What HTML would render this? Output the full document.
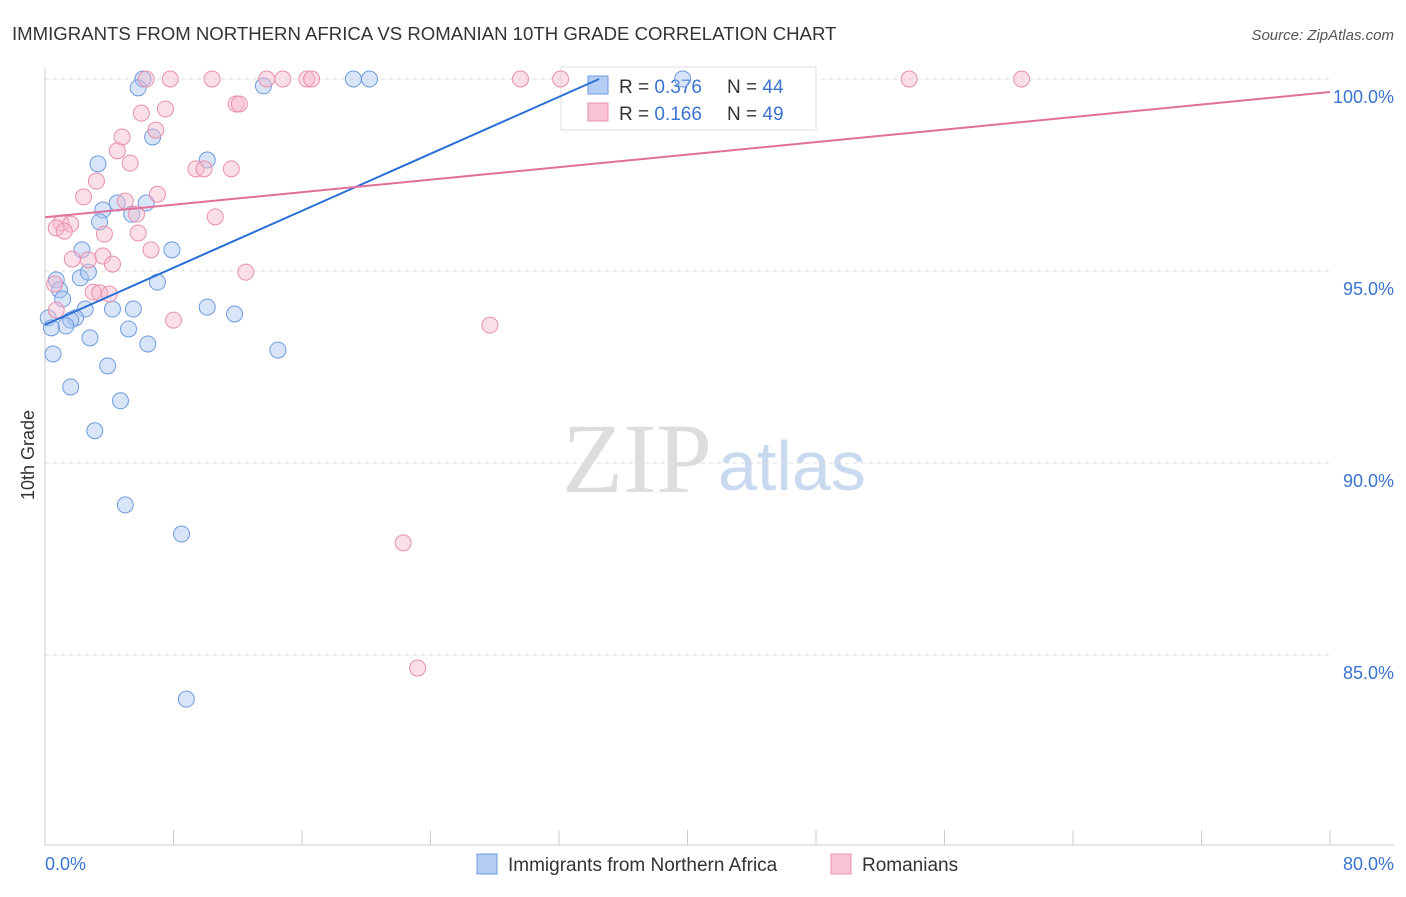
<!DOCTYPE html>
<html><head><meta charset="utf-8"><style>
body{margin:0;background:#fff;font-family:"Liberation Sans",sans-serif;}
</style></head><body>
<svg width="1406" height="892" xmlns="http://www.w3.org/2000/svg" style="font-family:'Liberation Sans',sans-serif">
<text x="12" y="40" font-size="18.6" fill="#333">IMMIGRANTS FROM NORTHERN AFRICA VS ROMANIAN 10TH GRADE CORRELATION CHART</text>
<text x="1394" y="40" font-size="15" fill="#555" font-style="italic" text-anchor="end">Source: ZipAtlas.com</text>
<text x="712" y="492" font-size="100" fill="#ddd" style="font-family:'Liberation Serif',serif" text-anchor="end">ZIP</text>
<text x="718" y="490" font-size="70" fill="#c9daf0">atlas</text>
<g id="grid"></g><g id="axes"></g>
<g>
<rect x="561" y="67" width="255" height="63" fill="#fff" stroke="#ddd"/>
<rect x="588" y="76" width="20" height="18" fill="#b5cdf3" stroke="#6f9be0"/>
<rect x="588" y="103" width="20" height="18" fill="#f8c3d4" stroke="#e890ad"/>
<text y="93" font-size="19" fill="#333"><tspan x="619">R = </tspan><tspan fill="#3a74d0">0.376</tspan><tspan x="727">N = </tspan><tspan fill="#3a74d0">44</tspan></text>
<text y="120" font-size="19" fill="#333"><tspan x="619">R = </tspan><tspan fill="#3a74d0">0.166</tspan><tspan x="727">N = </tspan><tspan fill="#3a74d0">49</tspan></text>
</g>
<g id="pts"></g><g id="lines"></g>
<text x="34" y="455" font-size="18" fill="#333" transform="rotate(-90 34 455)" text-anchor="middle">10th Grade</text>
<text x="45" y="870" font-size="18" fill="#3a74d0">0.0%</text>
<text x="1394" y="870" font-size="18" fill="#3a74d0" text-anchor="end">80.0%</text>
<g>
<rect x="477" y="854" width="20" height="20" fill="#b5cdf3" stroke="#6f9be0"/>
<text x="508" y="871" font-size="19" fill="#333">Immigrants from Northern Africa</text>
<rect x="831" y="854" width="20" height="20" fill="#f8c3d4" stroke="#e890ad"/>
<text x="862" y="871" font-size="19" fill="#333">Romanians</text>
</g>
</svg>
<script>
const yTicks=[100,95,90,85];
const xTicks=[0,8,16,24,32,40,48,56,64,72,80];
const blueX=[6.1,5.8,13.6,19.2,20.2,39.7,6.7,3.3,10.1,3.6,3.4,4.5,6.3,5.4,2.3,7.9,0.7,2.2,2.7,7.0,0.9,1.1,2.5,4.2,5.5,10.1,11.8,0.2,1.9,1.6,1.3,0.4,5.2,2.8,6.4,0.5,14.5,3.9,1.6,4.7,3.1,5.0,8.5,8.8];
const blueY=[100,99.77,99.82,100,100,100,98.49,97.79,97.89,96.59,96.28,96.77,96.77,96.48,95.55,95.55,94.77,94.82,94.97,94.71,94.51,94.27,94.01,94.01,94.01,94.06,93.88,93.78,93.78,93.72,93.57,93.52,93.49,93.26,93.1,92.84,92.94,92.53,91.98,91.62,90.84,88.91,88.15,83.85];
const pinkX=[6.3,7.8,10.4,13.8,14.8,16.3,16.6,29.6,32.1,53.8,60.8,11.9,12.1,7.5,6.0,6.9,4.8,4.5,5.3,9.4,9.9,11.6,3.2,7.0,2.4,5.0,5.7,10.6,1.0,1.6,0.7,1.2,3.7,5.8,6.6,3.6,1.7,2.7,4.2,12.5,0.6,3.0,3.4,4.0,0.7,8.0,27.7,22.3,23.2];
const pinkY=[100,100,100,100,100,100,100,100,100,100,100,99.35,99.35,99.22,99.11,98.67,98.49,98.13,97.81,97.66,97.66,97.66,97.34,97.0,96.93,96.82,96.48,96.41,96.25,96.22,96.12,96.04,95.96,95.99,95.55,95.39,95.31,95.29,95.18,94.97,94.66,94.45,94.43,94.4,93.98,93.72,93.59,87.92,84.66];
const blueLine=[[0,93.6],[34.5,100]];
const pinkLine=[[0,96.4],[80,99.66]];
const X=v=>45+v*1285/80, Y=v=>79+(100-v)*38.4;
const NS="http://www.w3.org/2000/svg";
function mk(tag,attrs,parent){const e=document.createElementNS(NS,tag);for(const k in attrs)e.setAttribute(k,attrs[k]);document.getElementById(parent).appendChild(e);return e;}
yTicks.forEach(t=>{const l=mk('line',{x1:45,x2:1330,y1:Y(t),y2:Y(t),stroke:'#ddd','stroke-dasharray':'4,4'},'grid');


const tx=mk('text',{x:1394,y:Y(t)+24,'font-size':18,fill:'#3a74d0','text-anchor':'end'},'grid');tx.textContent=t.toFixed(1)+'%';

});
const ax=mk('line',{x1:45,x2:45,y1:68,y2:845,stroke:'#ccc'},'axes');


const bx=mk('line',{x1:45,x2:1394,y1:845,y2:845,stroke:'#ccc'},'axes');


xTicks.forEach(t=>{const l=mk('line',{x1:X(t),x2:X(t),y1:830,y2:845,stroke:'#ccc'},'axes');

});
function dots(xs,ys,fill,stroke,name){xs.forEach((x,i)=>{const c=mk('circle',{cx:X(x),cy:Y(ys[i]),r:8,fill:fill,'fill-opacity':0.45,stroke:stroke,'stroke-width':1},'pts');

});}
dots(blueX,blueY,'#a8c6f0','#6f9be0','blue-point');
dots(pinkX,pinkY,'#f6b9cc','#e890ad','pink-point');
const bl=mk('line',{x1:X(blueLine[0][0]),y1:Y(blueLine[0][1]),x2:X(blueLine[1][0]),y2:Y(blueLine[1][1]),stroke:'#2a6fd6','stroke-width':2},'lines');


const pl=mk('line',{x1:X(pinkLine[0][0]),y1:Y(pinkLine[0][1]),x2:X(pinkLine[1][0]),y2:Y(pinkLine[1][1]),stroke:'#e0709a','stroke-width':2},'lines');


</script>
</body></html>
